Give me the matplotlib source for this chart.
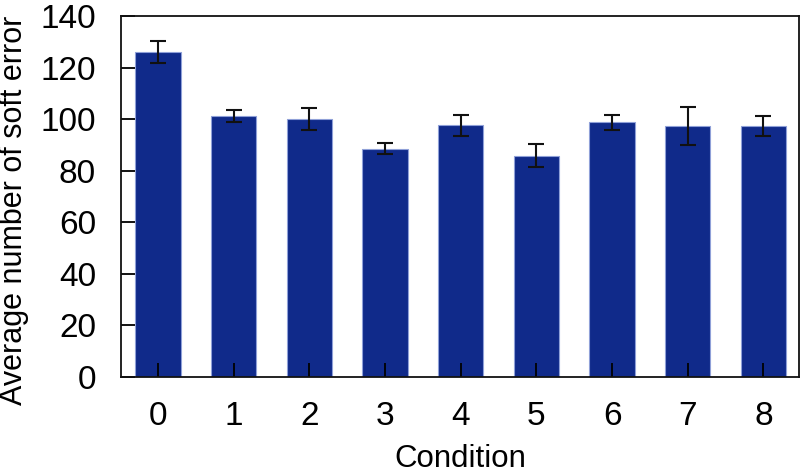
import matplotlib
matplotlib.use("Agg")
import matplotlib.pyplot as plt
import numpy as np

conditions = ["0", "1", "2", "3", "4", "5", "6", "7", "8"]
means = [126.0, 101.3, 100.1, 88.6, 97.6, 85.9, 98.8, 97.5, 97.4]
errors = [4.2, 2.4, 4.3, 2.1, 4.0, 4.5, 3.0, 7.4, 3.9]

plt.rcParams["font.family"] = ["Liberation Sans", "DejaVu Sans"]

fig = plt.figure(figsize=(8.02, 4.73), dpi=100)
ax = fig.add_axes([121 / 802, 1 - 377 / 473, 678 / 802, 361 / 473])

x = np.arange(len(conditions))
ax.bar(x, means, width=0.6, color="#102a8a", edgecolor="#8fa0d8", linewidth=0.8,
       yerr=errors, capsize=6, error_kw=dict(ecolor="#111111", elinewidth=1.5, capthick=1.5))

ax.set_xlim(-0.49, 8.47)
ax.set_ylim(0, 140)
ax.set_yticks(range(0, 141, 20))
ax.set_xticks(x)
ax.set_xticklabels(conditions)
ax.tick_params(direction="in", length=10, width=1.3, labelsize=24, top=False, right=False)
ax.tick_params(axis="x", pad=17)
ax.tick_params(axis="y", pad=18)
for s in ax.spines.values():
    s.set_linewidth(1.3)
    s.set_color("#111111")

ax.set_xlabel("Condition", fontsize=22.5)
ax.set_ylabel("Average number of soft error", fontsize=22)
# place labels where they sit in the original figure
ax.xaxis.set_label_coords(0.5, -0.185)
ax.yaxis.set_label_coords(-0.135, 0.463)

fig.savefig("out.png", dpi=100)
